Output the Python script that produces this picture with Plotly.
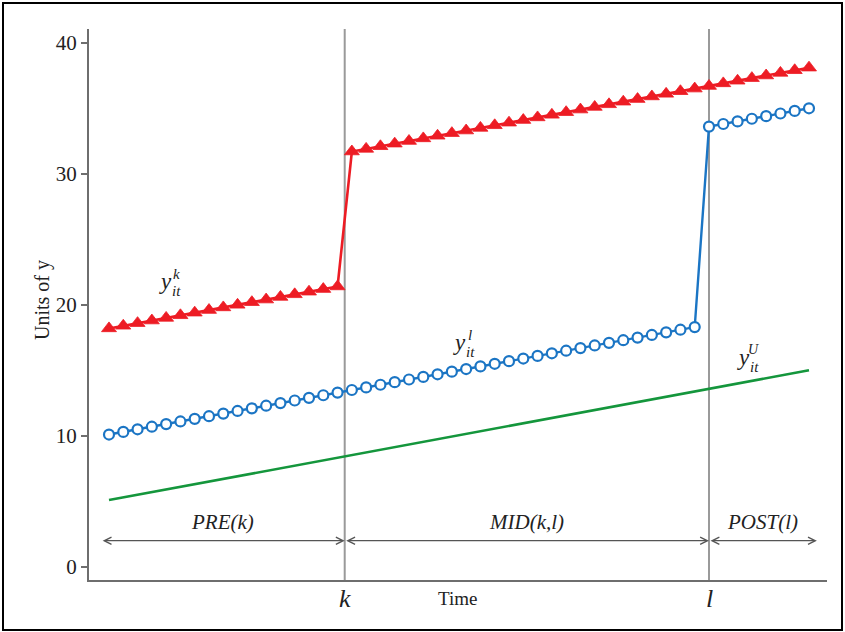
import plotly.graph_objects as go

# Time periods
t = list(range(1, 51))

# Unit treated at k (red triangles)
y_k = [18.2, 18.4, 18.6, 18.8, 19.0, 19.2, 19.4, 19.6, 19.8, 20.0,
       20.2, 20.4, 20.6, 20.8, 21.0, 21.2, 21.4,
       31.7, 31.9, 32.1, 32.3, 32.5, 32.7, 32.9, 33.1, 33.3,
       33.5, 33.7, 33.9, 34.1, 34.3, 34.5, 34.7, 34.9, 35.1,
       35.3, 35.5, 35.7, 35.9, 36.1, 36.3, 36.5, 36.7, 36.9,
       37.1, 37.3, 37.5, 37.7, 37.9, 38.1]

# Unit treated at l (blue open circles)
y_l = [10.1, 10.3, 10.5, 10.7, 10.9, 11.1, 11.3, 11.5, 11.7, 11.9,
       12.1, 12.3, 12.5, 12.7, 12.9, 13.1, 13.3, 13.5, 13.7, 13.9,
       14.1, 14.3, 14.5, 14.7, 14.9, 15.1, 15.3, 15.5, 15.7, 15.9,
       16.1, 16.3, 16.5, 16.7, 16.9, 17.1, 17.3, 17.5, 17.7, 17.9,
       18.1, 18.3,
       33.6, 33.8, 34.0, 34.2, 34.4, 34.6, 34.8, 35.0]

# Untreated unit (green line)
t_u = [1, 50]
y_u = [5.1, 15.0]

# Treatment timing
k_time = 17.5
l_time = 43
tick_vals = [k_time, l_time]
tick_text = ["<i>k</i>", "<i>l</i>"]
y_ticks = [0, 10, 20, 30, 40]

SERIF = "Liberation Serif, 'Times New Roman', Times, 'DejaVu Serif', serif"
TXT = "#222222"
RED = "#ED1C24"
BLUE = "#1B75C4"
GREEN = "#14963C"
AXIS = "#6e6e6e"
VLINE = "#9a9a9a"

W, H = 845, 632
ml, mr, mt, mb = 89, 18, 29, 52
pw, ph = W - ml - mr, H - mt - mb


def px_x(px):
    return (px - ml) / pw


def px_y(py):
    return (H - mb - py) / ph


fig = go.Figure()

fig.add_trace(go.Scatter(x=t_u, y=y_u, mode="lines",
                         line=dict(color=GREEN, width=2.6), showlegend=False))
fig.add_trace(go.Scatter(x=t, y=y_l, mode="lines+markers",
                         line=dict(color=BLUE, width=2.4),
                         marker=dict(symbol="circle", size=10, color="white",
                                     line=dict(color=BLUE, width=2.2)),
                         showlegend=False))
fig.add_trace(go.Scatter(x=t, y=y_k, mode="lines+markers",
                         line=dict(color=RED, width=2.6),
                         marker=dict(symbol="triangle-up", size=13, color=RED,
                                     line=dict(color=RED, width=0.8)),
                         showlegend=False))

shapes = []
for xv in [k_time, l_time]:
    shapes.append(dict(type="line", xref="x", yref="paper", x0=xv, x1=xv,
                       y0=0, y1=1, line=dict(color=VLINE, width=2), layer="below"))

# Outer frame around the whole figure
shapes.append(dict(type="rect", xref="paper", yref="paper",
                   x0=px_x(3), x1=px_x(842), y0=px_y(630), y1=px_y(3),
                   line=dict(color="black", width=2), fillcolor="rgba(0,0,0,0)"))

annotations = []

# Period arrows
arrow_y = 2.0
periods = [("<i>PRE(k)</i>", 0.45, k_time),
           ("<i>MID(k,l)</i>", k_time, l_time),
           ("<i>POST(l)</i>", l_time, 50.55)]
for label, x0, x1 in periods:
    annotations.append(dict(x=x1, y=arrow_y, ax=x0, ay=arrow_y, xref="x", yref="y",
                            axref="x", ayref="y", text="", showarrow=True,
                            arrowhead=5, startarrowhead=5, arrowside="end+start",
                            arrowsize=1.1, startarrowsize=1.1, arrowwidth=1.3,
                            arrowcolor="#555555", standoff=0, startstandoff=0))
    annotations.append(dict(x=(x0 + x1) / 2, y=arrow_y, xref="x", yref="y",
                            text=label, showarrow=False, yshift=19,
                            font=dict(family=SERIF, size=21, color=TXT)))

# Series labels y_it^k, y_it^l, y_it^U
labels = [(4.92, 21.76, "k"), (25.5, 17.1, "l"), (45.4, 15.95, "U")]
for lx, ly, sup in labels:
    annotations.append(dict(x=lx, y=ly, xref="x", yref="y", text="<i>y</i>",
                            showarrow=False,
                            font=dict(family=SERIF, size=23, color=TXT)))
    annotations.append(dict(x=lx, y=ly, xref="x", yref="y", text="<i>it</i>",
                            showarrow=False, xshift=11, yshift=-9,
                            font=dict(family=SERIF, size=15, color=TXT)))
    annotations.append(dict(x=lx, y=ly, xref="x", yref="y", text=f"<i>{sup}</i>",
                            showarrow=False, xshift=11 if sup != "U" else 10,
                            yshift=8, font=dict(family=SERIF, size=15 if sup != "U" else 14,
                                                color=TXT)))

# Time-axis labels for the treatment dates
for xv, txt in zip(tick_vals, tick_text):
    annotations.append(dict(x=xv, y=px_y(598), xref="x", yref="paper", text=txt,
                            showarrow=False, xanchor="center", yanchor="middle",
                            font=dict(family=SERIF, size=26, color=TXT)))

# Axis titles
annotations.append(dict(x=px_x(457), y=px_y(598), xref="paper", yref="paper",
                        text="Time", showarrow=False, xanchor="center", yanchor="middle",
                        font=dict(family=SERIF, size=19, color=TXT)))
annotations.append(dict(x=px_x(42), y=px_y(300), xref="paper", yref="paper",
                        text="Units of y", showarrow=False, textangle=-90,
                        xanchor="center", yanchor="middle",
                        font=dict(family=SERIF, size=20, color=TXT)))

fig.update_layout(
    width=W, height=H,
    margin=dict(l=ml, r=mr, t=mt, b=mb, autoexpand=False),
    paper_bgcolor="white", plot_bgcolor="white",
    font=dict(family=SERIF, color=TXT),
    shapes=shapes, annotations=annotations,
    xaxis=dict(range=[-0.4, 51.26], showgrid=False, zeroline=False,
               showline=True, linecolor=AXIS, linewidth=2, automargin=False,
               showticklabels=False, ticks=""),
    yaxis=dict(range=[-1, 41.05], showgrid=False, zeroline=False,
               showline=True, linecolor=AXIS, linewidth=2, automargin=False,
               tickmode="array", tickvals=y_ticks,
               ticks="outside", ticklen=6, tickwidth=1.5, tickcolor=AXIS,
               ticklabelstandoff=0,
               tickfont=dict(family=SERIF, size=21, color=TXT)),
)

fig.write_html("out.html")
